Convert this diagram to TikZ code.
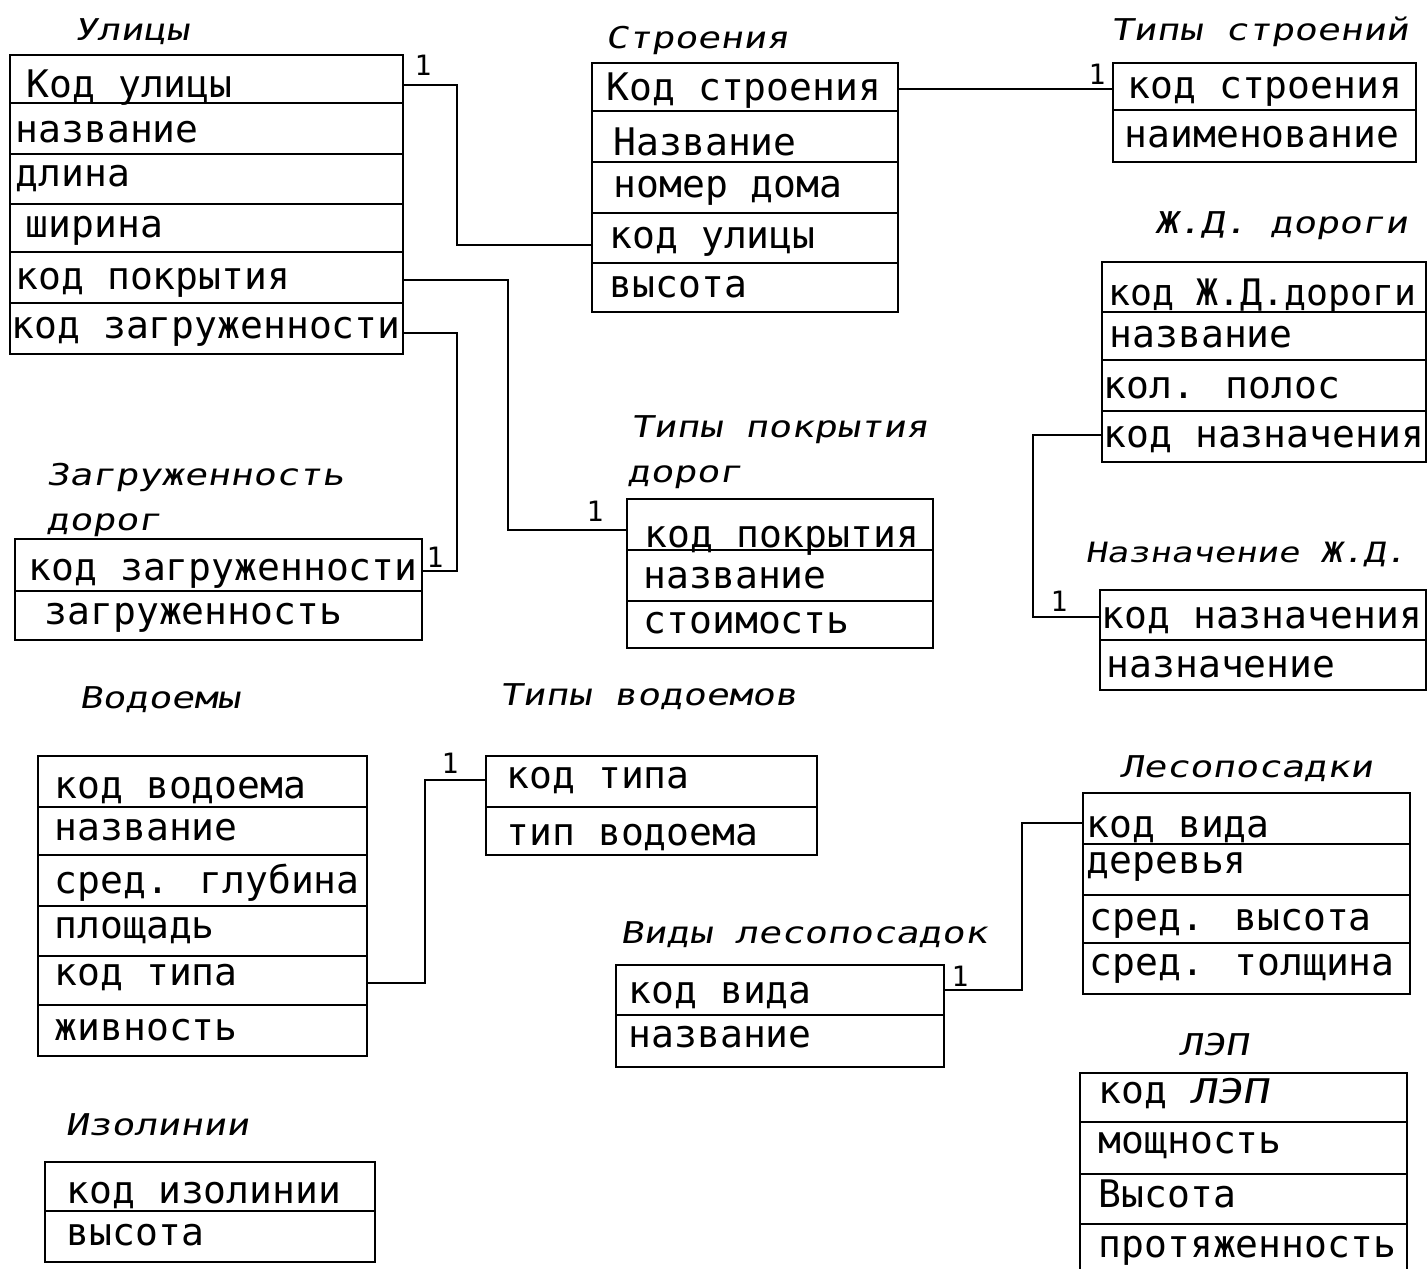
\documentclass[tikz,border=0pt]{standalone}
\usepackage{fontspec}
\setmainfont{DejaVu Sans Mono}
\newfontfamily\rowfont{DejaVu Sans Mono}
\newfontfamily\titlefont{DejaVu Sans Mono}[FakeStretch=1.27,FakeSlant=0.18]

\tikzset{
  tbl/.style={draw, line width=2.2pt, inner sep=0pt, outer sep=0pt, anchor=north west},
  tblopen/.style={inner sep=0pt, outer sep=0pt, anchor=north west},
  fieldsep/.style={line width=2pt},
  fld/.style={anchor=base west, inner sep=0pt, xshift=-3.5pt,
              font=\rowfont\fontsize{38}{40}\selectfont},
  ttl/.style={anchor=base west, inner sep=0pt, xshift=-3pt,
              font=\titlefont\fontsize{30}{32}\selectfont},
  conn/.style={line width=2.2pt},
  card/.style={anchor=base, inner sep=0pt,
               font=\rowfont\fontsize{28}{30}\selectfont},
}

% table frame: name, left, top, right, bottom
\newcommand\ertable[5]{%
  \node[tbl, minimum width={(#4-#2)*1pt}, minimum height={(#5-#3)*1pt}] (#1) at (#2,#3) {};}
% horizontal divider inside a table at a given height
\newcommand\fieldline[2]{\draw[fieldsep] (#1.west |- 0,#2) -- (#1.east |- 0,#2);}

\begin{document}
\begin{tikzpicture}[x=1pt,y=-1pt]
\useasboundingbox (0,0) rectangle (1427,1269);

% ---------- Улицы ----------
\node[ttl] (ul-t) at (77,40) {Улицы};
\ertable{ul}{10}{55}{403}{354}
\fieldline{ul}{103}\fieldline{ul}{154}\fieldline{ul}{204}\fieldline{ul}{252}\fieldline{ul}{303}
\node[fld] (ul-1) at (30,97)  {Код улицы};
\node[fld] (ul-2) at (19,142) {название};
\node[fld] (ul-3) at (19,186) {длина};
\node[fld] (ul-4) at (29,237) {ширина};
\node[fld] (ul-5) at (19,289) {код покрытия};
\node[fld] (ul-6) at (15,338) {код загруженности};

% ---------- Строения ----------
\node[ttl] (st-t) at (608,48) {Строения};
\ertable{st}{592}{63}{898}{312}
\fieldline{st}{111}\fieldline{st}{162}\fieldline{st}{213}\fieldline{st}{263}
\node[fld] (st-1) at (610,100) {Код строения};
\node[fld] (st-2) at (617,155) {Название};
\node[fld] (st-3) at (617,197) {номер дома};
\node[fld] (st-4) at (613,248) {код улицы};
\node[fld] (st-5) at (613,297) {высота};

% ---------- Типы строений ----------
\node[ttl] (ts-t) at (1113,40) {Типы строений};
\ertable{ts}{1113}{63}{1416}{162}
\fieldline{ts}{110}
\node[fld] (ts-1) at (1131,98)  {код строения};
\node[fld] (ts-2) at (1128,147) {наименование};

% ---------- Ж.Д. дороги ----------
\node[ttl] (zd-t) at (1158,233) {Ж.Д. дороги};
\ertable{zd}{1102}{262}{1426}{462}
\fieldline{zd}{312}\fieldline{zd}{360}\fieldline{zd}{411}
\node[fld, font=\rowfont\fontsize{36.5}{38}\selectfont] (zd-1) at (1112,305) {код Ж.Д.дороги};
\node[fld] (zd-2) at (1113,347) {название};
\node[fld] (zd-3) at (1107,398) {кол. полос};
\node[fld] (zd-4) at (1107,447) {код назначения};

% ---------- Назначение Ж.Д. ----------
\node[ttl, font=\titlefont\fontsize{28}{30}\selectfont] (nz-t) at (1088,562) {Назначение Ж.Д.};
\ertable{nz}{1100}{590}{1426}{690}
\fieldline{nz}{640}
\node[fld] (nz-1) at (1105,628) {код назначения};
\node[fld] (nz-2) at (1110,677) {назначение};

% ---------- Загруженность дорог ----------
\node[ttl] (zg-t1) at (49,485) {Загруженность};
\node[ttl] (zg-t2) at (49,530) {дорог};
\ertable{zg}{15}{539}{422}{640}
\fieldline{zg}{591}
\node[fld] (zg-1) at (32,580) {код загруженности};
\node[fld] (zg-2) at (48,624) {загруженность};

% ---------- Типы покрытия дорог ----------
\node[ttl] (tp-t1) at (633,437) {Типы покрытия};
\node[ttl] (tp-t2) at (630,482) {дорог};
\ertable{tp}{627}{499}{933}{648}
\fieldline{tp}{550}\fieldline{tp}{601}
\node[fld] (tp-1) at (648,547) {код покрытия};
\node[fld] (tp-2) at (647,588) {название};
\node[fld] (tp-3) at (647,633) {стоимость};

% ---------- Водоемы ----------
\node[ttl] (vd-t) at (82,708) {Водоемы};
\ertable{vd}{38}{756}{367}{1056}
\fieldline{vd}{807}\fieldline{vd}{855}\fieldline{vd}{906}\fieldline{vd}{956}\fieldline{vd}{1005}
\node[fld] (vd-1) at (58,798)  {код водоема};
\node[fld] (vd-2) at (58,840)  {название};
\node[fld] (vd-3) at (58,893)  {сред. глубина};
\node[fld] (vd-4) at (58,938)  {площадь};
\node[fld] (vd-5) at (58,985)  {код типа};
\node[fld] (vd-6) at (58,1040) {живность};

% ---------- Типы водоемов ----------
\node[ttl] (tv-t) at (502,705) {Типы водоемов};
\ertable{tv}{486}{756}{817}{855}
\fieldline{tv}{807}
\node[fld] (tv-1) at (510,788) {код типа};
\node[fld] (tv-2) at (510,845) {тип водоема};

% ---------- Виды лесопосадок ----------
\node[ttl] (vl-t) at (623,943) {Виды лесопосадок};
\ertable{vl}{616}{965}{944}{1067}
\fieldline{vl}{1015}
\node[fld] (vl-1) at (632,1003) {код вида};
\node[fld] (vl-2) at (632,1047) {название};

% ---------- Лесопосадки ----------
\node[ttl] (ls-t) at (1123,777) {Лесопосадки};
\ertable{ls}{1083}{793}{1410}{994}
\fieldline{ls}{844}\fieldline{ls}{895}\fieldline{ls}{943}
\node[fld] (ls-1) at (1090,837) {код вида};
\node[fld] (ls-2) at (1090,873) {деревья};
\node[fld] (ls-3) at (1093,930) {сред. высота};
\node[fld] (ls-4) at (1093,975) {сред. толщина};

% ---------- ЛЭП (runs past the lower edge) ----------
\node[ttl] (lp-t) at (1182,1055) {ЛЭП};
\node[tblopen, minimum width=327pt, minimum height=196pt] (lp) at (1080,1073) {};
\draw[line width=2.2pt] (lp.south west) -- (lp.north west) -- (lp.north east) -- (lp.south east);
\fieldline{lp}{1122}\fieldline{lp}{1174}\fieldline{lp}{1224}
\node[fld] (lp-1) at (1102,1103) {код {\titlefont\fontsize{34}{36}\selectfont ЛЭП}};
\node[fld] (lp-2) at (1102,1153) {мощность};
\node[fld] (lp-3) at (1102,1207) {Высота};
\node[fld] (lp-4) at (1102,1257) {протяженность};

% ---------- Изолинии ----------
\node[ttl] (iz-t) at (68,1135) {Изолинии};
\ertable{iz}{45}{1162}{375}{1262}
\fieldline{iz}{1211}
\node[fld] (iz-1) at (70,1203) {код изолинии};
\node[fld] (iz-2) at (70,1245) {высота};

% ---------- связи ----------
% Улицы.Код улицы -> Строения.код улицы
\coordinate (c1a) at (457,85);
\coordinate (c1b) at (457,245);
\draw[conn] (ul.east |- c1a) -- (c1a) -- (c1b) -- (st.west |- c1b);
\node[card] (n1) at (423,75) {1};

% Улицы.код покрытия -> Типы покрытия дорог
\coordinate (c2a) at (508,280);
\coordinate (c2b) at (508,530);
\draw[conn] (ul.east |- c2a) -- (c2a) -- (c2b) -- (tp.west |- c2b);
\node[card] (n2) at (595,521) {1};

% Улицы.код загруженности -> Загруженность дорог
\coordinate (c3a) at (457,333);
\coordinate (c3b) at (457,571);
\draw[conn] (ul.east |- c3a) -- (c3a) -- (c3b) -- (zg.east |- c3b);
\node[card] (n3) at (435,567) {1};

% Строения.Код строения -> Типы строений
\coordinate (c4) at (1000,89);
\draw[conn] (st.east |- c4) -- (ts.west |- c4);
\node[card] (n4) at (1097,84) {1};

% Ж.Д. дороги.код назначения -> Назначение Ж.Д.
\coordinate (c5a) at (1033,435);
\coordinate (c5b) at (1033,617);
\draw[conn] (zd.west |- c5a) -- (c5a) -- (c5b) -- (nz.west |- c5b);
\node[card] (n5) at (1059,611) {1};

% Водоемы.код типа -> Типы водоемов
\coordinate (c6a) at (425,983);
\coordinate (c6b) at (425,780);
\draw[conn] (vd.east |- c6a) -- (c6a) -- (c6b) -- (tv.west |- c6b);
\node[card] (n6) at (450,773) {1};

% Виды лесопосадок.код вида -> Лесопосадки.код вида
\coordinate (c7a) at (1022,990);
\coordinate (c7b) at (1022,823);
\draw[conn] (vl.east |- c7a) -- (c7a) -- (c7b) -- (ls.west |- c7b);
\node[card] (n7) at (960,986) {1};

\end{tikzpicture}
\end{document}
